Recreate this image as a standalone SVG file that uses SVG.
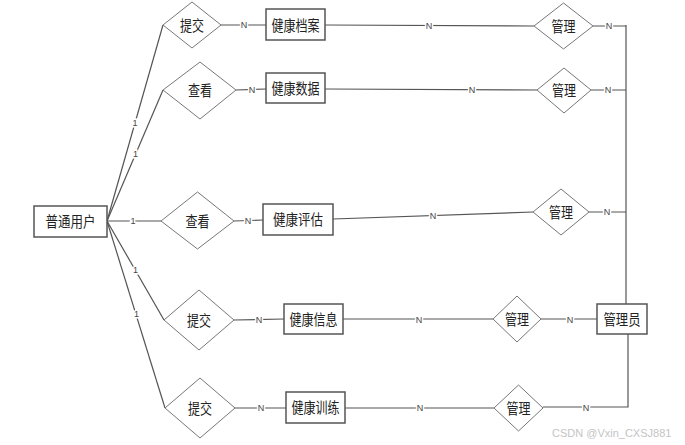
<svg xmlns="http://www.w3.org/2000/svg" width="685" height="445" viewBox="0 0 685 445">
<style>
.ent{fill:#fff;stroke:#555;stroke-width:1.5}
.rel{fill:#fff;stroke:#777;stroke-width:1}
.t{font-family:"Noto Sans CJK SC","Noto Sans",sans-serif;font-size:15px;fill:#222;text-anchor:middle}
.c{fill:none;stroke:#555;stroke-width:1.2}
.lb{font-family:"Liberation Sans",sans-serif;font-size:9px;fill:#444;text-anchor:middle;stroke:#fff;stroke-width:3;paint-order:stroke}
.wm{font-family:"Liberation Sans",sans-serif;font-size:11px;fill:#c4c4c4}
</style>
<rect width="685" height="445" fill="#fff"/>
<g id="connectors">
<path class="c" d="M107,221 L163,25"/>
<path class="c" d="M107,221 L163,90"/>
<path class="c" d="M107,221 L161,221"/>
<path class="c" d="M107,221 L164,320"/>
<path class="c" d="M107,221 L165,408"/>
<path class="c" d="M221,25 L266,25"/>
<path class="c" d="M236,90 L266,89"/>
<path class="c" d="M234,221 L263,220"/>
<path class="c" d="M234,320 L284,319"/>
<path class="c" d="M235,408 L286,408"/>
<path class="c" d="M325,25 L534,26"/>
<path class="c" d="M325,89 L537,90"/>
<path class="c" d="M333,219 L533,212"/>
<path class="c" d="M343,319 L493,319"/>
<path class="c" d="M345,408 L494,408"/>
<path class="c" d="M593,26 L626,26"/>
<path class="c" d="M591,90 L626,90"/>
<path class="c" d="M589,212 L626,212"/>
<path class="c" d="M626,25 L626,304"/>
<path class="c" d="M541,319 L597,319"/>
<path class="c" d="M628,334 L628,407 L543,407"/>
<text class="lb" x="135" y="126">1</text>
<text class="lb" x="135.5" y="157">1</text>
<text class="lb" x="133" y="224">1</text>
<text class="lb" x="135.5" y="273">1</text>
<text class="lb" x="136.5" y="317">1</text>
<text class="lb" x="244" y="28">N</text>
<text class="lb" x="252" y="93">N</text>
<text class="lb" x="248" y="224">N</text>
<text class="lb" x="259" y="323">N</text>
<text class="lb" x="261" y="411">N</text>
<text class="lb" x="429" y="29">N</text>
<text class="lb" x="472" y="93">N</text>
<text class="lb" x="433" y="219">N</text>
<text class="lb" x="419" y="323">N</text>
<text class="lb" x="420" y="411">N</text>
<text class="lb" x="609" y="29">N</text>
<text class="lb" x="608" y="93">N</text>
<text class="lb" x="607" y="215">N</text>
<text class="lb" x="570" y="323">N</text>
<text class="lb" x="586" y="411">N</text>
</g>
<g id="user"><rect class="ent" x="34" y="206" width="73" height="31"/><text class="t" x="70.5" y="227" textLength="50" lengthAdjust="spacingAndGlyphs">普通用户</text></g>
<g id="admin"><rect class="ent" x="597" y="304" width="50" height="30"/><text class="t" x="622" y="324.5" textLength="37" lengthAdjust="spacingAndGlyphs">管理员</text></g>
<g id="e1"><rect class="ent" x="266" y="9" width="59" height="31"/><text class="t" x="295.5" y="30.5" textLength="48" lengthAdjust="spacingAndGlyphs">健康档案</text></g>
<g id="e2"><rect class="ent" x="266" y="73" width="59" height="30"/><text class="t" x="295.5" y="93.5" textLength="48" lengthAdjust="spacingAndGlyphs">健康数据</text></g>
<g id="e3"><rect class="ent" x="263" y="204" width="70" height="31"/><text class="t" x="298" y="225" textLength="50" lengthAdjust="spacingAndGlyphs">健康评估</text></g>
<g id="e4"><rect class="ent" x="284" y="304" width="59" height="30"/><text class="t" x="313.5" y="324.5" textLength="48" lengthAdjust="spacingAndGlyphs">健康信息</text></g>
<g id="e5"><rect class="ent" x="286" y="392" width="59" height="31"/><text class="t" x="315.5" y="413" textLength="48" lengthAdjust="spacingAndGlyphs">健康训练</text></g>
<g id="d1"><polygon class="rel" points="163,25 192,2 221,25 192,48"/><text class="t" x="192" y="30.5" textLength="24" lengthAdjust="spacingAndGlyphs">提交</text></g>
<g id="d2"><polygon class="rel" points="163,90 200,62 236,90 200,119"/><text class="t" x="200" y="95.5" textLength="24" lengthAdjust="spacingAndGlyphs">查看</text></g>
<g id="d3"><polygon class="rel" points="161,221 197.5,192 234,221 197.5,249"/><text class="t" x="197.5" y="226.5" textLength="24" lengthAdjust="spacingAndGlyphs">查看</text></g>
<g id="d4"><polygon class="rel" points="164,320 199,290 234,320 199,350"/><text class="t" x="199" y="325.5" textLength="24" lengthAdjust="spacingAndGlyphs">提交</text></g>
<g id="d5"><polygon class="rel" points="165,408 200,378 235,408 200,438"/><text class="t" x="200" y="413.5" textLength="24" lengthAdjust="spacingAndGlyphs">提交</text></g>
<g id="m1"><polygon class="rel" points="534,26 563.5,3 593,26 563.5,49"/><text class="t" x="563.5" y="31.5" textLength="24" lengthAdjust="spacingAndGlyphs">管理</text></g>
<g id="m2"><polygon class="rel" points="537,90 564,68 591,90 564,113"/><text class="t" x="564" y="95.5" textLength="24" lengthAdjust="spacingAndGlyphs">管理</text></g>
<g id="m3"><polygon class="rel" points="533,212 561,189 589,212 561,235"/><text class="t" x="561" y="217.5" textLength="24" lengthAdjust="spacingAndGlyphs">管理</text></g>
<g id="m4"><polygon class="rel" points="493,319 517,296 541,319 517,342"/><text class="t" x="517" y="324.5" textLength="24" lengthAdjust="spacingAndGlyphs">管理</text></g>
<g id="m5"><polygon class="rel" points="494,408 518.5,385 543,408 518.5,431"/><text class="t" x="518.5" y="413.5" textLength="24" lengthAdjust="spacingAndGlyphs">管理</text></g>
<text class="wm" x="552" y="437">CSDN @Vxin_CXSJ881</text>
</svg>
